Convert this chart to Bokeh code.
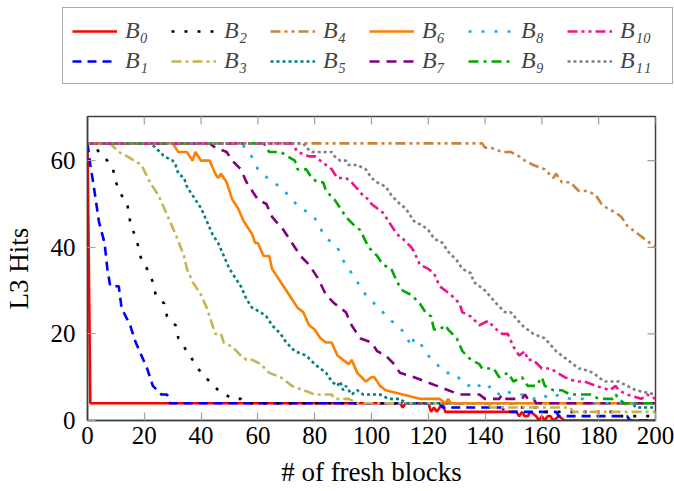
import math
from bokeh.plotting import figure
from bokeh.layouts import column
from bokeh.models import Range1d, Legend, LegendItem, FixedTicker
from bokeh.embed import file_html
from bokeh.resources import INLINE

# ---------------- data ----------------
x_ticks = [0, 20, 40, 60, 80, 100, 120, 140, 160, 180, 200]
y_ticks = [0, 20, 40, 60]

labels = ["B₀", "B₁", "B₂", "B₃", "B₄", "B₅", "B₆", "B₇", "B₈", "B₉", "B₁₀", "B₁₁"]

b0_x = [0, 1, 110, 111, 112, 120, 121, 122, 123, 124, 125, 126, 151, 152, 153, 154, 155, 156, 158, 159, 160, 161, 162, 163, 164, 166, 168, 200]
b0_y = [64, 4, 4, 3, 4, 4, 2, 3, 2, 3, 4, 2, 2, 1, 2, 1, 1, 2, 1, 0, 1, 0, 1, 1, 0, 1, 0, 0]

b1_x = [0, 1, 2, 4, 6, 7, 8, 11, 12, 15, 17, 21, 23, 26, 28, 29, 124, 125, 146, 147, 165, 166, 190, 191, 200]
b1_y = [64, 59, 55, 46, 41, 35, 31, 31, 26, 22, 18, 12, 8, 6, 6, 4, 4, 3, 3, 2, 2, 1, 1, 0, 0]

b2_x = [0, 2, 4, 7, 9, 10, 12, 14, 15, 18, 19, 21, 23, 24, 27, 28, 31, 32, 35, 37, 40, 43, 46, 51, 54, 56, 151, 152, 160, 161, 185, 186, 200]
b2_y = [64, 64, 62, 60, 58, 55, 52, 50, 46, 40, 37, 35, 32, 29, 27, 24, 22, 19, 16, 14, 11, 9, 7, 5, 5, 4, 4, 3, 3, 2, 2, 1, 1]

b3_x = [0, 8, 11, 14, 19, 22, 25, 27, 31, 34, 35, 37, 40, 42, 43, 45, 47, 48, 51, 54, 56, 58, 61, 64, 68, 70, 72, 76, 80, 86, 87, 92, 95, 141, 142, 170, 171, 200]
b3_y = [64, 64, 62, 61, 59, 55, 52, 49, 43, 38, 35, 32, 29, 26, 24, 20, 20, 18, 17, 15, 14, 14, 13, 11, 10, 9, 8, 7, 6, 6, 5, 5, 4, 4, 3, 3, 2, 2]

b4_x = [0, 139, 140, 142, 146, 149, 152, 154, 157, 161, 164, 165, 167, 170, 173, 176, 179, 181, 183, 186, 188, 190, 192, 194, 196, 198, 200]
b4_y = [64, 64, 63, 63, 62, 62, 61, 60, 59, 58, 56, 57, 55, 55, 53, 53, 52, 50, 49, 48, 47, 45, 44, 43, 42, 41, 40]

b5_x = [0, 22, 24, 27, 30, 31, 32, 34, 35, 37, 40, 42, 44, 46, 48, 50, 52, 54, 56, 58, 61, 63, 65, 68, 70, 73, 77, 80, 84, 86, 88, 89, 90, 91, 92, 93, 95, 97, 100, 103, 106, 110, 112, 192, 193, 200]
b5_y = [64, 64, 63, 61, 60, 59, 57, 56, 54, 52, 49, 46, 43, 41, 38, 35, 33, 31, 28, 26, 25, 24, 22, 20, 18, 16, 15, 13, 11, 9, 8, 9, 7, 8, 7, 6, 7, 6, 6, 6, 5, 5, 4, 4, 3, 3]

b6_x = [0, 30, 32, 35, 37, 38, 40, 43, 45, 46, 47, 49, 51, 53, 55, 58, 59, 60, 62, 64, 65, 67, 68, 70, 72, 74, 76, 78, 80, 82, 84, 86, 88, 90, 92, 93, 95, 98, 100, 101, 103, 105, 111, 117, 124, 126, 127, 128, 200]
b6_y = [64, 64, 62, 62, 60, 62, 60, 60, 57, 56, 57, 55, 51, 49, 46, 43, 41, 41, 38, 38, 35, 33, 32, 30, 28, 26, 25, 22, 21, 19, 18, 18, 15, 14, 13, 14, 11, 9, 10, 10, 8, 7, 6, 5, 5, 4, 5, 4, 4]

b7_x = [0, 43, 45, 49, 51, 54, 56, 60, 63, 65, 69, 72, 75, 78, 81, 84, 87, 91, 93, 96, 100, 102, 105, 108, 110, 115, 119, 123, 127, 131, 134, 138, 140, 145, 146, 147, 150, 153, 154, 155, 157, 158, 200]
b7_y = [64, 64, 63, 62, 60, 58, 55, 51, 50, 47, 44, 41, 38, 36, 33, 29, 27, 25, 22, 19, 18, 16, 15, 13, 11, 10, 9, 8, 7, 6, 6, 6, 5, 5, 6, 5, 5, 5, 6, 5, 5, 4, 4]

b8_x = [0, 54, 57, 60, 65, 68, 72, 75, 78, 81, 83, 86, 88, 90, 93, 95, 98, 101, 104, 107, 109, 112, 114, 115, 117, 120, 123, 126, 129, 132, 134, 136, 138, 140, 142, 145, 147, 150, 153, 157, 160, 163, 166, 170, 175, 178, 200]
b8_y = [64, 64, 62, 58, 55, 54, 51, 49, 48, 46, 43, 41, 40, 37, 34, 32, 29, 27, 25, 23, 22, 20, 17, 19, 18, 15, 13, 11, 11, 9, 8, 9, 8, 7, 8, 6, 7, 6, 6, 5, 6, 5, 6, 5, 5, 4, 4]

b9_x = [0, 62, 64, 68, 73, 74, 77, 79, 81, 83, 84, 87, 89, 91, 94, 96, 99, 102, 104, 107, 109, 111, 114, 117, 119, 121, 122, 124, 126, 127, 130, 132, 135, 138, 139, 143, 145, 148, 150, 153, 155, 158, 160, 161, 164, 167, 170, 177, 180, 185, 186, 187, 189, 200]
b9_y = [64, 64, 62, 62, 60, 58, 58, 56, 55, 55, 53, 51, 49, 47, 45, 44, 40, 38, 36, 35, 32, 30, 29, 27, 25, 24, 21, 21, 22, 21, 19, 16, 14, 13, 12, 12, 10, 11, 9, 10, 8, 8, 10, 8, 7, 7, 6, 6, 5, 5, 6, 5, 4, 4]

b10_x = [0, 72, 74, 78, 80, 82, 86, 87, 88, 91, 93, 97, 99, 100, 104, 106, 109, 111, 114, 115, 117, 120, 122, 124, 126, 128, 131, 132, 135, 138, 141, 144, 146, 148, 150, 152, 154, 155, 157, 160, 163, 168, 172, 175, 179, 184, 186, 187, 190, 195, 197, 200]
b10_y = [64, 64, 62, 61, 61, 60, 58, 57, 56, 56, 55, 52, 51, 50, 48, 46, 43, 42, 40, 39, 36, 35, 34, 31, 30, 29, 27, 25, 24, 22, 23, 21, 20, 20, 17, 15, 16, 14, 14, 12, 12, 10, 9, 9, 8, 7, 8, 7, 6, 5, 6, 5]

b11_x = [0, 76, 77, 79, 86, 87, 89, 91, 92, 95, 98, 100, 102, 105, 107, 110, 112, 115, 118, 120, 122, 125, 127, 130, 132, 135, 136, 140, 144, 147, 149, 153, 157, 161, 165, 169, 173, 174, 178, 182, 187, 190, 193, 200]
b11_y = [64, 64, 63, 62, 62, 61, 60, 60, 59, 59, 58, 56, 55, 54, 52, 50, 49, 46, 45, 44, 42, 41, 39, 37, 35, 34, 32, 30, 27, 25, 25, 22, 20, 19, 16, 14, 12, 12, 11, 9, 9, 8, 7, 6]

xs = [b0_x, b1_x, b2_x, b3_x, b4_x, b5_x, b6_x, b7_x, b8_x, b9_x, b10_x, b11_x]
ys = [b0_y, b1_y, b2_y, b3_y, b4_y, b5_y, b6_y, b7_y, b8_y, b9_y, b10_y, b11_y]

# ---------------- styles ----------------
colors = ["#FF0000", "#0000FF", "#000000", "#C4B454", "#C8843C", "#008080",
          "#FF8000", "#800080", "#14AAE8", "#00A800", "#F0148C", "#808080"]
dashes = ["solid", "9 6", "3 10", "10 4 3 4", "10 4 3 4 3 4", "3 3",
          "solid", "10 7", "3 10", "10 5 3 5", "10 4 3 4 3 4", "3 3"]
LW = 2.6

FONT = "Liberation Serif"
X_END = 200
Y_END = 70.2
W = 674
LEG_H = 100

# ---------------- main plot ----------------
p = figure(width=W, height=491 - LEG_H, output_backend="svg", toolbar_location=None,
           x_range=Range1d(0, X_END), y_range=Range1d(0, Y_END),
           min_border_left=86, min_border_right=19, min_border_top=116 - LEG_H,
           min_border_bottom=71)
p.frame_align = False
p.grid.visible = False
p.background_fill_color = "white"
p.border_fill_color = "white"
p.outline_line_color = "#404040"
p.outline_line_width = 1.5

for x, y, c, d in zip(xs, ys, colors, dashes):
    p.line(x, y, line_color=c, line_width=LW, line_dash=d)

# inward ticks on the top and right edges (half of each marker is clipped by the frame)
p.scatter(x_ticks, [Y_END] * len(x_ticks), marker="dash", size=16, angle=math.pi / 2,
          line_color="#A0A0A0", line_width=1.2)
p.scatter([X_END] * len(y_ticks), y_ticks, marker="dash", size=16,
          line_color="#A0A0A0", line_width=1.2)

for ax in (p.xaxis[0], p.yaxis[0]):
    ax.major_tick_in = 8
    ax.major_tick_out = 0
    ax.minor_tick_in = 0
    ax.minor_tick_out = 0
    ax.major_tick_line_color = "#A0A0A0"
    ax.major_tick_line_width = 1.2
    ax.axis_line_color = "#404040"
    ax.axis_line_width = 1.5
    ax.major_label_text_font = FONT
    ax.major_label_text_font_size = "25px"
    ax.major_label_text_color = "black"
    ax.axis_label_text_font = FONT
    ax.axis_label_text_font_size = "27px"
    ax.axis_label_text_font_style = "normal"
    ax.axis_label_text_color = "black"

p.xaxis.ticker = FixedTicker(ticks=x_ticks)
p.yaxis.ticker = FixedTicker(ticks=y_ticks)
p.xaxis.axis_label = "# of fresh blocks"
p.yaxis.axis_label = "L3 Hits"
p.xaxis.major_label_standoff = 6
p.xaxis.axis_label_standoff = 10
p.yaxis.major_label_standoff = 12
p.yaxis.axis_label_standoff = 14

# ---------------- legend strip ----------------
lg = figure(width=W, height=LEG_H, output_backend="svg", toolbar_location=None,
            x_axis_type=None, y_axis_type=None, min_border=0,
            x_range=Range1d(0, 1), y_range=Range1d(0, 1))
lg.frame_align = False
lg.outline_line_color = None
lg.background_fill_color = "white"
lg.border_fill_color = "white"
# single-point proxies (draw nothing themselves) that carry each series' style
proxies = [lg.line(x=[x[0]], y=[y[0]], line_color=c, line_width=LW, line_dash=d)
           for x, y, c, d in zip(xs, ys, colors, dashes)]

order = [0, 2, 4, 6, 8, 10, 1, 3, 5, 7, 9, 11]
items = [LegendItem(label=labels[i], renderers=[proxies[i]]) for i in order]
legend = Legend(items=items, location=(62, 16), orientation="horizontal", ncols=6,
                glyph_width=45, glyph_height=24, label_width=43, label_height=24,
                label_standoff=8, spacing=3, padding=9, margin=0,
                label_text_font=FONT, label_text_font_size="24px",
                label_text_font_style="italic", label_text_baseline="middle",
                border_line_color="#555555", border_line_width=1.5,
                background_fill_color="white", background_fill_alpha=1.0)
lg.add_layout(legend)

open("out.html", "w").write(file_html(column(lg, p, spacing=0), INLINE))
